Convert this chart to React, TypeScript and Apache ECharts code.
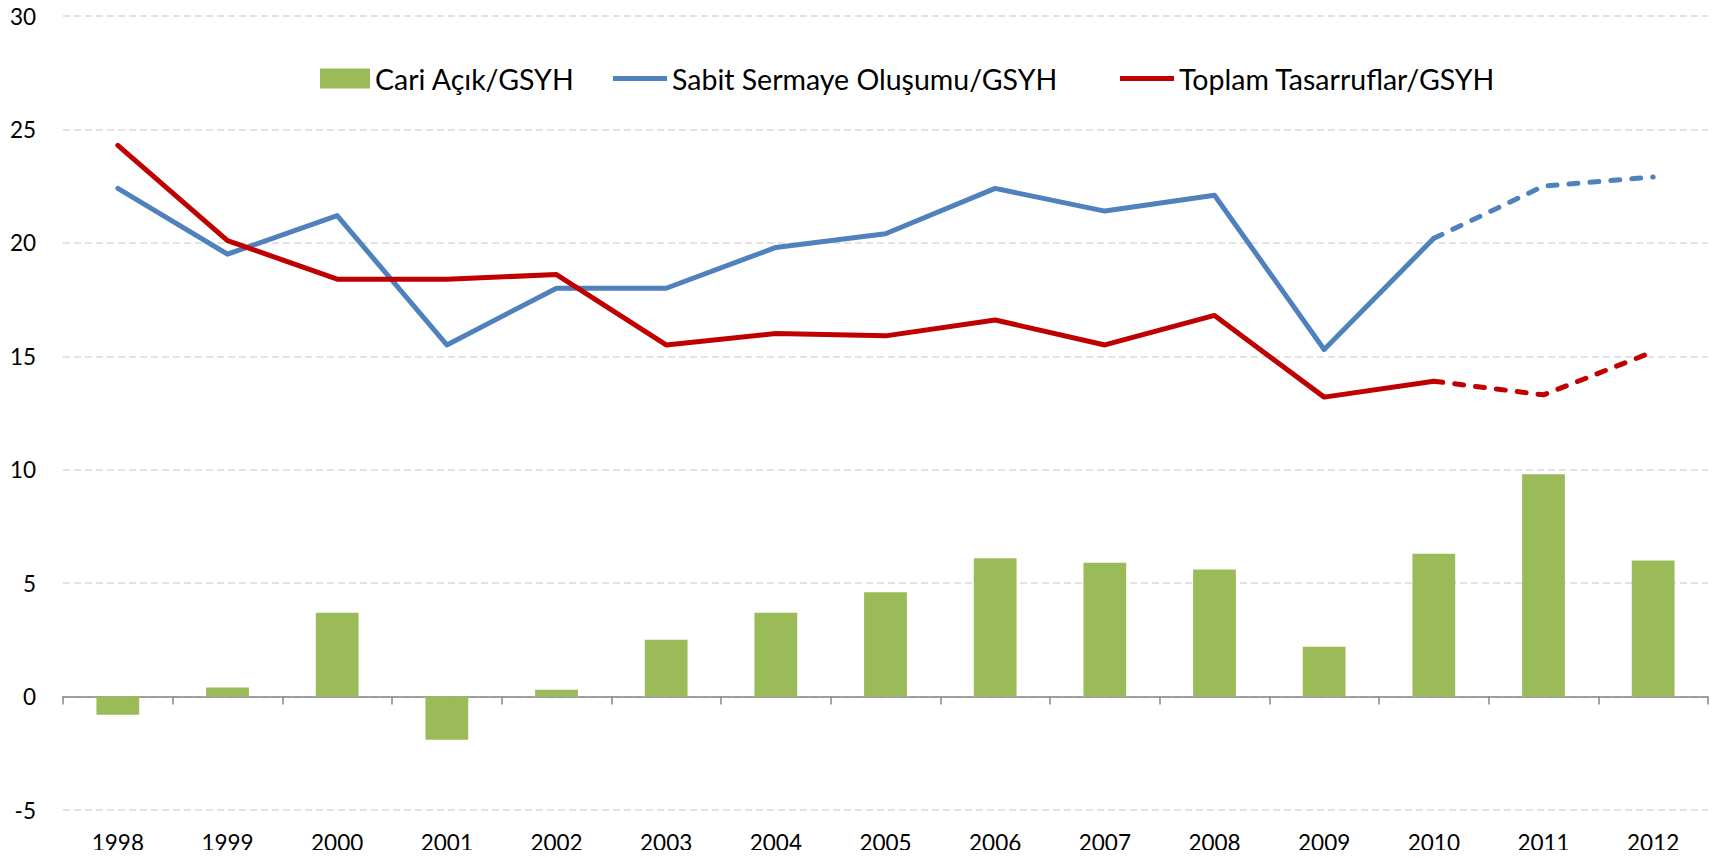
import React, { useEffect, useRef } from "react";
import * as echarts from "echarts";

const years = ["1998", "1999", "2000", "2001", "2002", "2003", "2004", "2005", "2006", "2007", "2008", "2009", "2010", "2011", "2012"];
const cariAcik = [-0.8, 0.4, 3.7, -1.9, 0.3, 2.5, 3.7, 4.6, 6.1, 5.9, 5.6, 2.2, 6.3, 9.8, 6.0];
const sabitSermaye = [22.4, 19.5, 21.2, 15.5, 18.0, 18.0, 19.8, 20.4, 22.4, 21.4, 22.1, 15.3, 20.2, 22.5, 22.9];
const toplamTasarruf = [24.3, 20.1, 18.4, 18.4, 18.6, 15.5, 16.0, 15.9, 16.6, 15.5, 16.8, 13.2, 13.9, 13.3, 15.2];
const solidUntil = 12; // index of 2010: solid up to here, dashed after

const NAME_BAR = "Cari Açık/GSYH";
const NAME_BLUE = "Sabit Sermaye Oluşumu/GSYH";
const NAME_RED = "Toplam Tasarruflar/GSYH";

const GREEN = "#9BBB59";
const BLUE = "#4F81BD";
const RED = "#C00000";
const FONT = "Lato";

function splitSolid(arr: number[]) {
  return arr.map((v, i) => (i <= solidUntil ? v : "-"));
}
function splitDashed(arr: number[]) {
  return arr.map((v, i) => (i >= solidUntil ? v : "-"));
}

export default function App() {
  const ref = useRef<HTMLDivElement>(null);
  useEffect(() => {
    if (!ref.current) return;
    const chart = echarts.init(ref.current, null, { renderer: "svg" });
    const legendText = { fontFamily: FONT, fontSize: 28.5, color: "#000" };
    chart.setOption({
      animation: false,
      backgroundColor: "#fff",
      grid: { left: 63, right: 17, top: 16, bottom: 48, containLabel: false },
      legend: [
        {
          data: [{ name: NAME_BAR, icon: "rect" }],
          left: 315,
          top: 59,
          itemWidth: 50,
          itemHeight: 20,
          textStyle: legendText,
          selectedMode: false,
        },
        {
          data: [{ name: NAME_BLUE, icon: "rect", itemStyle: { color: BLUE } }],
          left: 608,
          top: 59,
          itemWidth: 54,
          itemHeight: 5,
          textStyle: legendText,
          selectedMode: false,
        },
        {
          data: [{ name: NAME_RED, icon: "rect", itemStyle: { color: RED } }],
          left: 1115,
          top: 59,
          itemWidth: 54,
          itemHeight: 5,
          textStyle: legendText,
          selectedMode: false,
        },
      ],
      xAxis: [
        {
          type: "category",
          data: years,
          boundaryGap: true,
          axisLine: { show: true, onZero: true, lineStyle: { color: "#868686", width: 1.5 } },
          axisTick: { show: true, length: 8, lineStyle: { color: "#868686", width: 1.5 } },
          axisLabel: { show: false },
          splitLine: { show: false },
        },
        {
          type: "category",
          data: years,
          position: "bottom",
          boundaryGap: true,
          axisLine: { show: false, onZero: false },
          axisTick: { show: false },
          axisLabel: { show: true, margin: 21, fontFamily: FONT, fontSize: 22.5, color: "#000" },
          splitLine: { show: false },
        },
      ],
      yAxis: {
        type: "value",
        min: -5,
        max: 30,
        interval: 5,
        axisLine: { show: false },
        axisTick: { show: false },
        axisLabel: { margin: 27, fontFamily: FONT, fontSize: 22.5, color: "#000" },
        splitLine: { show: true, lineStyle: { color: "#D9D9D9", width: 1.5, type: [7, 4] } },
      },
      series: [
        {
          name: NAME_BAR,
          type: "bar",
          xAxisIndex: 0,
          data: cariAcik,
          barWidth: "39%",
          itemStyle: { color: GREEN },
          z: 2,
        },
        {
          name: NAME_BLUE,
          type: "line",
          xAxisIndex: 0,
          data: splitSolid(sabitSermaye),
          symbol: "none",
          showSymbol: false,
          lineStyle: { color: BLUE, width: 5, cap: "round", join: "round" },
          itemStyle: { color: BLUE },
          z: 3,
        },
        {
          name: "blue-projection",
          type: "line",
          xAxisIndex: 0,
          data: splitDashed(sabitSermaye),
          symbol: "none",
          showSymbol: false,
          lineStyle: { color: BLUE, width: 5, type: [9, 12], cap: "round", join: "round" },
          itemStyle: { color: BLUE },
          z: 3,
        },
        {
          name: NAME_RED,
          type: "line",
          xAxisIndex: 0,
          data: splitSolid(toplamTasarruf),
          symbol: "none",
          showSymbol: false,
          lineStyle: { color: RED, width: 5, cap: "round", join: "round" },
          itemStyle: { color: RED },
          z: 4,
        },
        {
          name: "red-projection",
          type: "line",
          xAxisIndex: 0,
          data: splitDashed(toplamTasarruf),
          symbol: "none",
          showSymbol: false,
          lineStyle: { color: RED, width: 5, type: [9, 12], cap: "round", join: "round" },
          itemStyle: { color: RED },
          z: 4,
        },
      ],
    });
    return () => chart.dispose();
  }, []);
  return <div ref={ref} style={{ width: 1725, height: 858, margin: -8 }} />;
}
